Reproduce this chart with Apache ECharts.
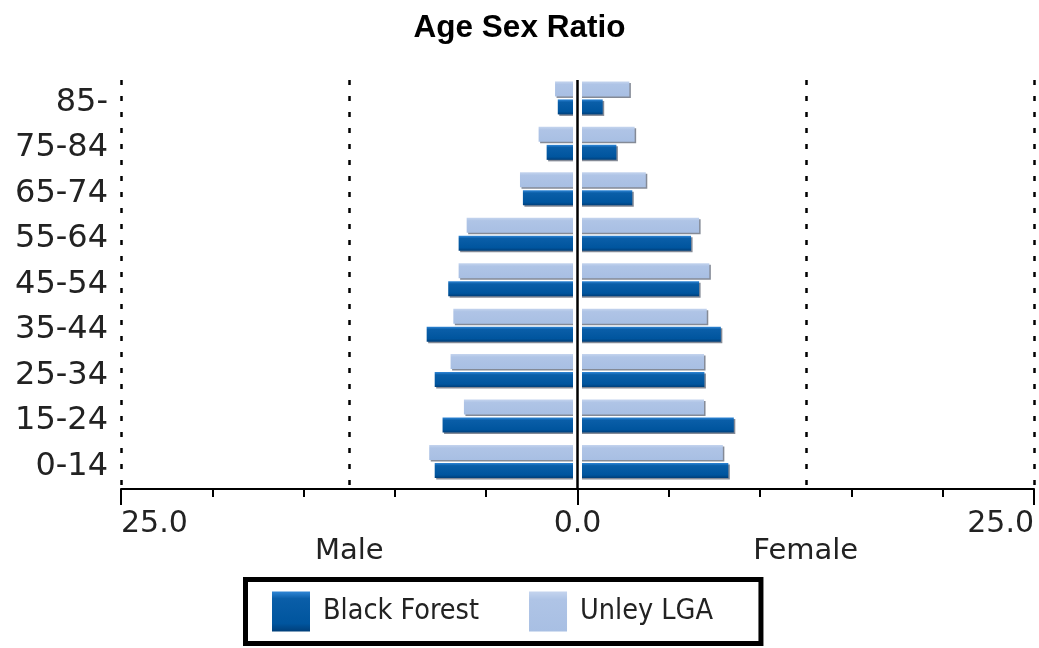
<!DOCTYPE html>
<html>
<head>
<meta charset="utf-8">
<script src="https://cdn.jsdelivr.net/npm/echarts@6/dist/echarts.min.js"></script>
<style>
  html, body { margin: 0; padding: 0; background: #fff; }
  #chart { width: 1039px; height: 648px; }
</style>
</head>
<body>
<div id="chart"></div>
<script>
// Age groups (bottom to top)
const categories = ['0-14', '15-24', '25-34', '35-44', '45-54', '55-64', '65-74', '75-84', '85-'];
// Percentages; male values are negative (drawn to the left)
const blackForestMale   = [-7.82, -7.39, -7.82, -8.26, -7.08, -6.51, -2.99, -1.69, -1.08];
const blackForestFemale = [ 8.26,  8.56,  6.95,  7.85,  6.66,  6.22,  3.00,  2.13,  1.38];
const unleyMale         = [-8.12, -6.22, -6.95, -6.80, -6.51, -6.07, -3.15, -2.13, -1.23];
const unleyFemale       = [ 7.96,  6.93,  6.93,  7.08,  7.22,  6.66,  3.74,  3.13,  2.84];
const seriesNames = ['Black Forest', 'Unley LGA'];
const sideLabels = { '-12.5': 'Male', '12.5': 'Female' };

const FONT = 'DejaVu Sans';
const DOT = [5, 11];

const bfColor = new echarts.graphic.LinearGradient(0, 0, 0, 1, [
  { offset: 0, color: '#2f86d6' },
  { offset: 0.18, color: '#0a5ea8' },
  { offset: 0.8, color: '#00559e' },
  { offset: 1, color: '#003f7a' }
]);
const ulColor = new echarts.graphic.LinearGradient(0, 0, 0, 1, [
  { offset: 0, color: '#c4d4ee' },
  { offset: 0.2, color: '#afc4e6' },
  { offset: 1, color: '#a8bfe3' }
]);
const barStyle = (c) => ({
  color: c,
  shadowColor: 'rgba(50,60,80,0.6)',
  shadowOffsetX: 1.5,
  shadowOffsetY: 1.5,
  shadowBlur: 0
});

const chart = echarts.init(document.getElementById('chart'), null, { renderer: 'canvas' });
chart.setOption({
  animation: false,
  backgroundColor: '#fff',
  title: {
    text: 'Age Sex Ratio',
    left: 'center',
    top: 7,
    textStyle: { fontFamily: 'Liberation Sans', fontWeight: 'bold', fontSize: 31.5, color: '#000' }
  },
  legend: {
    data: seriesNames,
    left: 245.5,
    top: 579.5,
    orient: 'horizontal',
    icon: 'rect',
    itemWidth: 38,
    itemHeight: 40,
    itemGap: 50,
    padding: [12, 48, 12, 26.5],
    borderColor: '#000',
    borderWidth: 5,
    backgroundColor: '#fff',
    selectedMode: false,
    textStyle: { fontFamily: 'DejaVu Sans Condensed, DejaVu Sans', fontSize: 28.5, color: '#222', padding: [0, 0, 0, 8] }
  },
  grid: { left: 121, right: 5, top: 80, bottom: 159, containLabel: false },
  xAxis: [
    {
      type: 'value',
      position: 'bottom',
      min: -25, max: 25, interval: 25,
      z: 10,
      axisLine: { show: true, lineStyle: { color: '#000', width: 2 } },
      axisTick: { show: true, length: 16, lineStyle: { color: '#000', width: 2 } },
      minorTick: { show: true, splitNumber: 5, length: 8, lineStyle: { color: '#000', width: 2 } },
      splitLine: { show: false },
      axisLabel: {
        margin: 20,
        fontFamily: FONT, fontSize: 30, color: '#222',
        alignMinLabel: 'left', alignMaxLabel: 'right',
        formatter: (v) => Math.abs(v).toFixed(1)
      }
    },
    {
      type: 'value',
      position: 'bottom',
      min: -25, max: 25, interval: 12.5,
      axisLine: { show: false },
      axisTick: { show: false },
      splitLine: { show: true, lineStyle: { color: '#000', width: 2.5, type: DOT } },
      axisLabel: {
        margin: 48,
        fontFamily: FONT, fontSize: 29, color: '#222',
        formatter: (v) => sideLabels[String(v)] || ''
      }
    }
  ],
  yAxis: {
    type: 'category',
    data: categories,
    axisLine: { show: false },
    axisTick: { show: false },
    splitLine: { show: false },
    axisLabel: { margin: 13, fontFamily: FONT, fontSize: 32, color: '#222' }
  },
  series: [
    {
      name: seriesNames[1], type: 'bar', stack: 'ul', barWidth: 15, barGap: '20%',
      data: unleyMale, itemStyle: barStyle(ulColor),
      markLine: {
        silent: true, symbol: 'none', label: { show: false },
        lineStyle: { color: '#fff', width: 9, type: 'solid' },
        data: [{ xAxis: 0 }]
      }
    },
    { name: seriesNames[1], type: 'bar', stack: 'ul', barWidth: 15, barGap: '20%', data: unleyFemale, itemStyle: barStyle(ulColor) },
    { name: seriesNames[0], type: 'bar', stack: 'bf', barWidth: 15, barGap: '20%', data: blackForestMale, itemStyle: barStyle(bfColor) },
    {
      name: seriesNames[0], type: 'bar', stack: 'bf', barWidth: 15, barGap: '20%',
      data: blackForestFemale, itemStyle: barStyle(bfColor),
      markLine: {
        silent: true, symbol: 'none', label: { show: false },
        lineStyle: { color: '#000', width: 2.5, type: 'solid' },
        data: [{ xAxis: 0 }]
      }
    },
    // empty spacer that nudges the bar pair upward within each band
    { name: 'spacer', type: 'bar', stack: 'sp', barWidth: 6.6, barGap: '20%', data: [], silent: true }
  ]
});
</script>
</body>
</html>
